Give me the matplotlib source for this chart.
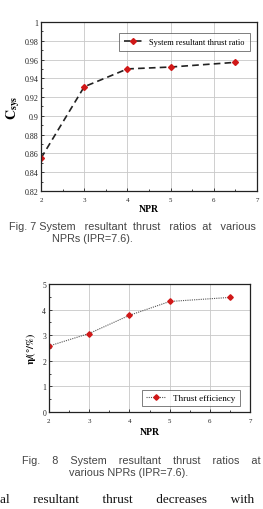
import matplotlib.pyplot as plt
from matplotlib.ticker import MultipleLocator

# Fig. 7 data
npr = [2, 3, 4, 5, 6.5]
c_sys = [0.855, 0.931, 0.950, 0.952, 0.957]
c_ticks = [0.82, 0.84, 0.86, 0.88, 0.90, 0.92, 0.94, 0.96, 0.98, 1.0]
c_tick_labels = ['0.82', '0.84', '0.86', '0.88', '0.9', '0.92', '0.94',
                 '0.96', '0.98', '1']

# Fig. 8 data
eta = [2.58, 3.07, 3.78, 4.32, 4.48]

SERIF = 'Liberation Serif'
SANS = 'Liberation Sans'
RED = '#d01818'

plt.rcParams['mathtext.fontset'] = 'stix'

fig = plt.figure(figsize=(2.63, 5.10), dpi=100)

# ---- Fig. 7 ----
ax1 = fig.add_axes([0.156, 0.6235, 0.821, 0.3315])
ax1.plot(npr, c_sys, color='#222222', linestyle=(0, (4, 2.5)), linewidth=1.2,
         marker='D', markersize=3, markerfacecolor=RED, markeredgecolor=RED,
         label='System resultant thrust ratio')
ax1.set_xlim(2, 7)
ax1.xaxis.set_major_locator(MultipleLocator(1))
ax1.xaxis.set_minor_locator(MultipleLocator(0.5))
ax1.set_yticks(c_ticks)
ax1.set_yticklabels(c_tick_labels)
ax1.yaxis.set_minor_locator(MultipleLocator(0.01))
ax1.set_ylim(0.82, 1.0)
ax1.grid(True, color='#c8c8c8', linewidth=0.6)
ax1.set_ylabel(r'$\mathbf{C}_{\mathbf{sys}}$', fontsize=10, labelpad=2)
ax1.set_xlabel('NPR', fontsize=7, fontweight='bold', family=SERIF, labelpad=2)
leg = ax1.legend(loc='upper right', prop={'family': SERIF, 'size': 6},
                 frameon=True, fancybox=False, edgecolor='#444444',
                 handlelength=2.2, borderpad=0.6, bbox_to_anchor=(0.985, 0.96))
leg.get_frame().set_linewidth(0.6)

# ---- Fig. 8 ----
ax2 = fig.add_axes([0.186, 0.190, 0.765, 0.251])
ax2.plot(npr, eta, color='#555555', linestyle=(0, (1, 1)), linewidth=0.8,
         marker='D', markersize=2.8, markerfacecolor=RED, markeredgecolor=RED,
         label='Thrust efficiency')
ax2.set_xlim(2, 7)
ax2.set_ylim(0, 5)
ax2.xaxis.set_major_locator(MultipleLocator(1))
ax2.xaxis.set_minor_locator(MultipleLocator(0.5))
ax2.yaxis.set_major_locator(MultipleLocator(1))
ax2.yaxis.set_minor_locator(MultipleLocator(0.5))
ax2.grid(True, color='#c8c8c8', linewidth=0.6)
ax2.set_ylabel(r'$\mathbf{\eta/(\degree/\%)}$', fontsize=7.5, labelpad=3)
ax2.set_xlabel('NPR', fontsize=7, fontweight='bold', family=SERIF, labelpad=3)
leg2 = ax2.legend(loc='lower right', prop={'family': SERIF, 'size': 6.5},
                  frameon=True, fancybox=False, edgecolor='#444444',
                  handlelength=2.2, borderpad=0.45, bbox_to_anchor=(0.97, 0.01))
leg2.get_frame().set_linewidth(0.6)

for ax in (ax1, ax2):
    for s in ax.spines.values():
        s.set_linewidth(0.9)
        s.set_color('#222222')
    ax.tick_params(which='both', direction='in', length=2, width=0.6,
                   labelsize=5, pad=2, colors='#222222')
    ax.tick_params(which='minor', length=1.2)
    for lab in ax.get_xticklabels() + ax.get_yticklabels():
        lab.set_family(SERIF)
ax1.tick_params(axis='x', pad=4)
ax1.tick_params(axis='y', labelsize=5.8)
ax2.tick_params(axis='x', pad=4)
ax2.tick_params(axis='y', labelsize=5.5)

# ---- captions ----
cap = dict(family=SANS, fontsize=7.8, color='#444444')
fig.text(0.035, 1 - 227 / 510, 'Fig. 7 System   resultant  thrust   ratios  at   various',
         va='center', ha='left', **cap)
fig.text(0.198, 1 - 239 / 510, 'NPRs (IPR=7.6).', va='center', ha='left', **cap)
fig.text(0.083, 1 - 461 / 510, 'Fig.    8    System    resultant    thrust    ratios    at',
         va='center', ha='left', **cap)
fig.text(0.49, 1 - 473 / 510, 'various NPRs (IPR=7.6).', va='center', ha='center', **cap)

# body text at the bottom edge
fig.text(0.0, 1 - 500 / 510,
         'al       resultant       thrust       decreases       with',
         va='center', ha='left', family=SERIF, fontsize=9.5, color='#111111')

fig.savefig('out.png', dpi=100)
